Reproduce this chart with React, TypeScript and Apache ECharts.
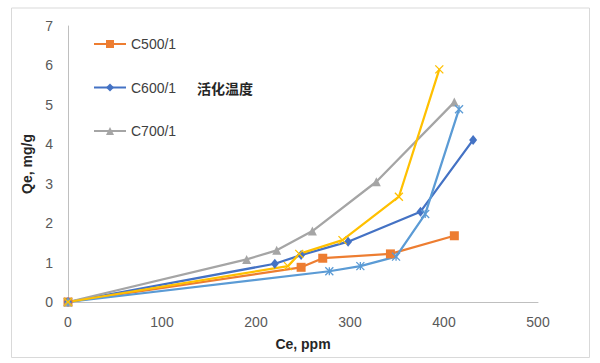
import React, { useEffect, useRef } from "react";
import * as echarts from "echarts";

const xTicks = [0, 100, 200, 300, 400, 500];
const yTicks = [0, 1, 2, 3, 4, 5, 6, 7];

const c500: number[][] = [[0, 0], [248, 0.88], [271, 1.11], [343, 1.22], [411, 1.68]];
const c600: number[][] = [[0, 0], [220, 0.97], [248, 1.19], [298, 1.53], [375, 2.29], [431, 4.11]];
const c700: number[][] = [[0, 0], [190, 1.08], [222, 1.31], [260, 1.8], [328, 3.05], [411, 5.07]];
const series4: number[][] = [[0, 0], [278, 0.78], [311, 0.91], [349, 1.15], [380, 2.23], [416, 4.89]];
const series5: number[][] = [[0, 0], [234, 0.91], [246, 1.22], [292, 1.57], [352, 2.67], [395, 5.9]];

const legendNames = ["C500/1", "C600/1", "C700/1"];
const noteText = "活化温度";

const FONT = "'Liberation Sans', 'Noto Sans CJK SC', sans-serif";

export default function App() {
  const ref = useRef<HTMLDivElement>(null);
  useEffect(() => {
    document.body.style.margin = "0";
    if (!ref.current) return;
    const chart = echarts.init(ref.current, undefined, { renderer: "svg" });
    const mk = (name: string, data: number[][], color: string, symbol: string, size: number | number[], stroke = false) => ({
      name,
      type: "line",
      data,
      symbol,
      symbolSize: size,
      lineStyle: { color, width: 2.25 },
      itemStyle: stroke
        ? { color: "transparent", borderColor: color, borderWidth: 1.3 }
        : { color, borderColor: color, borderWidth: 0 },
      emphasis: { disabled: true },
    });
    chart.setOption({
      animation: false,
      textStyle: { fontFamily: FONT },
      grid: { left: 68, right: 62, top: 26, bottom: 61 },
      xAxis: {
        type: "value",
        min: xTicks[0],
        max: xTicks[xTicks.length - 1],
        interval: 100,
        name: "Ce, ppm",
        nameLocation: "middle",
        nameGap: 35,
        nameTextStyle: { fontSize: 14, fontWeight: "bold", color: "#262626", fontFamily: FONT },
        axisLine: { show: true, lineStyle: { color: "#bfbfbf", width: 1 } },
        axisTick: { show: false },
        splitLine: { show: false },
        axisLabel: { fontSize: 14, color: "#595959", margin: 13, fontFamily: FONT },
      },
      yAxis: {
        type: "value",
        min: yTicks[0],
        max: yTicks[yTicks.length - 1],
        interval: 1,
        name: "Qe, mg/g",
        nameLocation: "middle",
        nameGap: 29,
        nameTextStyle: { fontSize: 14, fontWeight: "bold", color: "#262626", fontFamily: FONT },
        axisLine: { show: true, lineStyle: { color: "#bfbfbf", width: 1 } },
        axisTick: { show: false },
        splitLine: { show: false },
        axisLabel: { fontSize: 14, color: "#595959", margin: 15, fontFamily: FONT },
      },
      legend: {
        data: legendNames,
        orient: "vertical",
        left: 93,
        top: 37,
        padding: 0,
        itemWidth: 32,
        itemHeight: 10,
        itemGap: 29.5,
        textStyle: { fontSize: 14, color: "#404040", fontFamily: FONT, lineHeight: 14 },
      },
      graphic: [
        {
          type: "rect",
          shape: { x: 11.5, y: 8, width: 578, height: 349.5 },
          style: { fill: "none", stroke: "#d9d9d9", lineWidth: 1 },
          silent: true,
        },
        {
          type: "text",
          x: 197,
          y: 88,
          style: {
            text: noteText,
            fontSize: 14,
            fontWeight: "bold",
            fill: "#262626",
            fontFamily: "'Noto Sans CJK SC', sans-serif",
            verticalAlign: "middle",
          },
        },
      ],
      series: [
        mk("C500/1", c500, "#ED7D31", "rect", 9),
        mk("C600/1", c600, "#4472C4", "diamond", [8, 10]),
        mk("C700/1", c700, "#A5A5A5", "triangle", 9),
        mk("series4", series4, "#5B9BD5", "path://M0,0L10,10M10,0L0,10M5,0L5,10", 8, true),
        mk("series5", series5, "#FFC000", "path://M0,0L10,10M10,0L0,10", 8, true),
      ],
    });
    return () => chart.dispose();
  }, []);
  return <div ref={ref} style={{ width: 600, height: 363 }} />;
}
